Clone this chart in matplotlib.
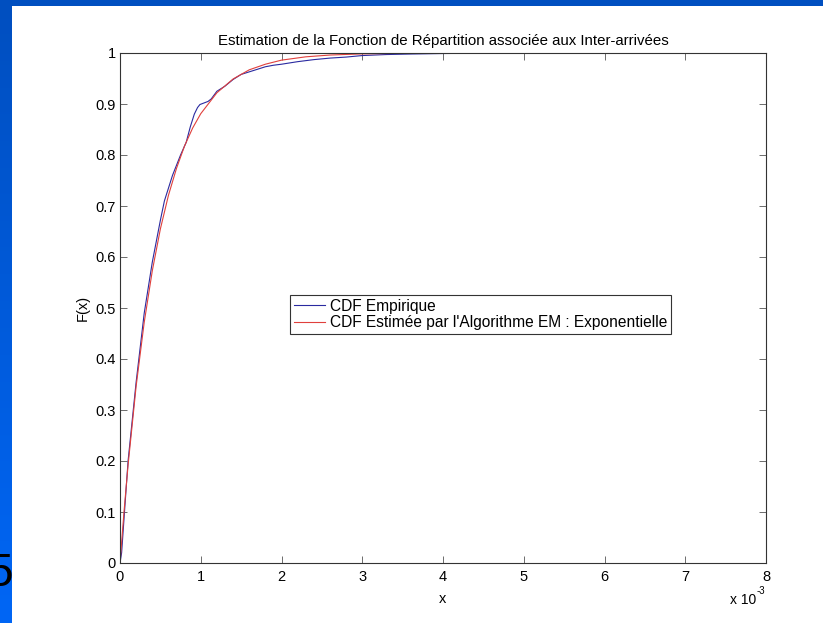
import numpy as np
import matplotlib
matplotlib.use("Agg")
import matplotlib.pyplot as plt
from matplotlib.patches import Rectangle
from matplotlib.colors import LinearSegmentedColormap
from matplotlib.legend_handler import HandlerLine2D
from matplotlib.lines import Line2D

plt.rcParams['font.family'] = ['Liberation Sans', 'DejaVu Sans']

# Data (x in units of 1e-3)
emp_x = [0, 0.02, 0.1, 0.2, 0.3, 0.4, 0.5, 0.55, 0.65, 0.75, 0.82, 0.87, 0.92, 0.96, 0.99,
         1.04, 1.09, 1.13, 1.2, 1.3, 1.4, 1.5, 1.6, 1.7, 1.8, 1.9, 2.0, 2.2, 2.4, 2.6,
         2.8, 3.0, 3.3, 3.6, 4.0, 4.4, 4.75]
emp_F = [0, 0.02, 0.2, 0.355, 0.49, 0.59, 0.672, 0.71, 0.76, 0.80, 0.825, 0.855, 0.88, 0.893, 0.899,
         0.902, 0.905, 0.91, 0.925, 0.935, 0.948, 0.958, 0.963, 0.968, 0.973, 0.976, 0.978,
         0.983, 0.987, 0.99, 0.992, 0.995, 0.997, 0.998, 0.999, 0.9995, 1.0]
fit_x = [0, 0.05, 0.1, 0.2, 0.3, 0.4, 0.5, 0.6, 0.7, 0.8, 0.9, 1.0, 1.2, 1.4, 1.6, 1.8,
         2.0, 2.3, 2.6, 3.0, 3.5, 4.0, 4.75]
fit_F = [0, 0.101, 0.192, 0.347, 0.472, 0.573, 0.655, 0.721, 0.774, 0.818, 0.853, 0.881,
         0.922, 0.949, 0.967, 0.978, 0.986, 0.9925, 0.996, 0.9983, 0.9994, 0.9998, 1.0]
xticks = [0, 1, 2, 3, 4, 5, 6, 7, 8]
yticks = [0, 0.1, 0.2, 0.3, 0.4, 0.5, 0.6, 0.7, 0.8, 0.9, 1]
ylabels = ['0', '0.1', '0.2', '0.3', '0.4', '0.5', '0.6', '0.7', '0.8', '0.9', '1']


class ShortHandler(HandlerLine2D):
    def create_artists(self, legend, orig_handle, xdescent, ydescent, width,
                       height, fontsize, trans):
        arts = super().create_artists(legend, orig_handle, xdescent, ydescent,
                                      width, height, fontsize, trans)
        for a in arts:
            xd = np.asarray(a.get_xdata(), dtype=float)
            if len(xd) == 2:
                a.set_xdata([xd[0] + 0.6 * (xd[1] - xd[0]), xd[1]])
        return arts


W, H = 823, 623
fig = plt.figure(figsize=(W / 100, H / 100), dpi=100)
fig.patch.set_facecolor('white')

# slide decoration: top strip and left gradient strip
fig.patches.append(Rectangle((0, 1 - 6 / H), 1, 6 / H, transform=fig.transFigure,
                             facecolor='#004fc0', edgecolor='none', zorder=0))
axs = fig.add_axes([0, 0, 12 / W, 1 - 6 / H])
grad = np.linspace(0, 1, 256).reshape(-1, 1)
cm = LinearSegmentedColormap.from_list('s', ['#004fc0', '#0066f5'])
axs.imshow(grad, aspect='auto', cmap=cm, extent=[0, 12, H - 6, 0])
axs.set_xlim(0, 12)
axs.set_ylim(H - 6, 0)
axs.axis('off')
axs.text(13, 580, '5', fontsize=33, ha='right', va='baseline', color='black', clip_on=True)

l, r, t, b = 120, 766, 53, 563
ax = fig.add_axes([l / W, (H - b) / H, (r - l) / W, (b - t) / H])
ax.plot(emp_x, emp_F, color='#2a2aa0', lw=0.8, label='CDF Empirique')
ax.plot(fit_x, fit_F, color='#e0403c', lw=0.8, label="CDF Estimée par l'Algorithme EM : Exponentielle")
ax.set_xlim(0, 8)
ax.set_ylim(0, 1)
ax.set_xticks(xticks)
ax.set_xticklabels([str(v) for v in xticks])
ax.set_yticks(yticks)
ax.set_yticklabels(ylabels)
ax.tick_params(direction='in', length=5, width=0.6, top=True, right=True,
               labelsize=10.5, colors='#555555', labelcolor='black', pad=5)
ax.tick_params(axis='y', pad=3)
for s in ax.spines.values():
    s.set_linewidth(0.8)
    s.set_color('#333333')
ax.set_title('Estimation de la Fonction de Répartition associée aux Inter-arrivées',
             fontsize=10.8, pad=6)
ax.set_xlabel('x', fontsize=10.5, labelpad=6)
ax.set_ylabel('F(x)', fontsize=10.5, labelpad=4)
fig.text(730 / W, 1 - 604 / H, 'x 10', fontsize=10, ha='left', va='baseline')
fig.text(757 / W, 1 - 594 / H, '-3', fontsize=7, ha='left', va='baseline')

leg = ax.legend(loc='upper left', bbox_to_anchor=((290 - l) / (r - l), (b - 295) / (b - t)),
                borderaxespad=0, fontsize=11.2, handlelength=2.0, handletextpad=0.3,
                fancybox=False, framealpha=1, edgecolor='#333333', borderpad=0.25,
                labelspacing=0.08, handler_map={Line2D: ShortHandler()})
leg.get_frame().set_linewidth(0.8)

fig.savefig('out.png', dpi=100)
